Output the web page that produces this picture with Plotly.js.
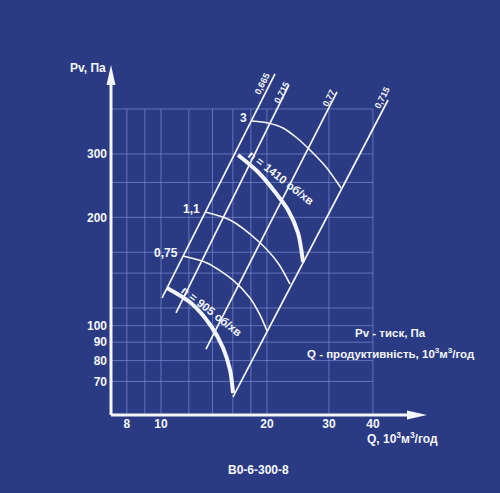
<!DOCTYPE html>
<html><head><meta charset="utf-8">
<script src="https://cdn.plot.ly/plotly-3.0.1.min.js"></script>
<style>html,body{margin:0;padding:0;background:#2a3b84;}#chart{width:500px;height:493px;}</style>
</head><body><div id="chart"></div>
<script>
// ---- data ----
const gridQ = [8, 9, 10, 12, 14, 16, 18, 20, 30, 40];
const gridP = [70, 80, 90, 100, 112, 140, 160, 200, 250, 300, 400];
const tickQ = [8, 10, 20, 30, 40];
const tickP = [70, 80, 90, 100, 200, 300];

const rayLabels = ['0,665', '0,715', '0,77', '0,715'];
const rayQ = [[10.07, 21.08], [11.03, 23.10], [13.42, 31.62], [16.02, 44.16]];
const rayP = [[119.4, 500.3], [108.5, 466.4], [86.1, 446.0], [63.4, 423.6]];

const powerLabels = ['3', '1,1', '0,75'];
const power3Q = [18.14, 20.14, 22.21, 24.34, 26.50, 29.43, 32.46];
const power3P = [370.4, 365.6, 354.2, 332.2, 307.6, 275.9, 241.3];
const power11Q = [13.34, 15.71, 18.87, 21.50, 23.25];
const power11P = [207.0, 196.7, 171.9, 149.4, 130.5];
const power075Q = [11.55, 13.51, 16.02, 17.90, 19.11, 20.01];
const power075P = [156.1, 149.4, 133.9, 119.4, 107.1, 96.67];

const speedLabels = ['n = 1410 об/хв', 'n = 905 об/хв'];
const n1410Q = [16.55, 18.87, 21.08, 22.95, 24.51, 25.32];
const n1410P = [298.0, 267.3, 235.2, 209.6, 180.9, 150.3];
const n905Q = [10.40, 12.17, 13.87, 15.01, 15.71, 16.02];
const n905P = [127.3, 115.6, 99.8, 86.7, 75.3, 65.0];

// ---- styling / layout ----
const BG = '#2a3b84';
const GRID = 'rgba(125,145,215,0.65)';
const WHITE = '#f4f6fb';
const FONT = "'Liberation Sans', Arial, sans-serif";
const W = 500, H = 493;
const M = {l: 111, r: 73, t: 65, b: 78};
const xr = [0.85795, 1.75568];
const yr = [1.75194, 2.72417];
const pw = W - M.l - M.r, ph = H - M.t - M.b;
const px = v => (v - M.l) / pw;           // pixel -> paper x
const py = v => (H - M.b - v) / ph;       // pixel -> paper y

const traces = [];
rayQ.forEach((q, i) => traces.push({x: q, y: rayP[i], mode: 'lines', type: 'scatter',
  line: {color: WHITE, width: 1.7}, hoverinfo: 'skip'}));
[[power3Q, power3P], [power11Q, power11P], [power075Q, power075P]].forEach(([q, p]) =>
  traces.push({x: q, y: p, mode: 'lines', type: 'scatter',
    line: {color: WHITE, width: 1.6, shape: 'spline', smoothing: 0.8}, hoverinfo: 'skip'}));
[[n1410Q, n1410P], [n905Q, n905P]].forEach(([q, p]) =>
  traces.push({x: q, y: p, mode: 'lines', type: 'scatter',
    line: {color: WHITE, width: 4, shape: 'spline', smoothing: 0.8}, hoverinfo: 'skip'}));

const qMin = Math.pow(10, xr[0]), pMin = Math.pow(10, yr[0]);
const qMax = gridQ[gridQ.length - 1], pMax = gridP[gridP.length - 1];
const shapes = gridQ.map(q => ({type: 'line', xref: 'x', yref: 'y', x0: q, x1: q, y0: pMin, y1: pMax,
  line: {color: GRID, width: 1}, layer: 'below'}))
  .concat(gridP.map(p => ({type: 'line', xref: 'x', yref: 'y', x0: qMin, x1: qMax, y0: p, y1: p,
  line: {color: GRID, width: 1}, layer: 'below'})));
// axes with arrowheads
shapes.push({type: 'line', xref: 'paper', yref: 'paper', x0: 0, x1: 1 - 12 / pw, y0: 0, y1: 0,
  line: {color: WHITE, width: 3}});
shapes.push({type: 'line', xref: 'paper', yref: 'paper', x0: 0, x1: 0, y0: 0, y1: 1 - 12 / ph,
  line: {color: WHITE, width: 3}});
shapes.push({type: 'path', xref: 'paper', yref: 'paper', xsizemode: 'pixel', ysizemode: 'pixel',
  xanchor: 1, yanchor: 0, path: 'M0,0 L-20,4.5 L-20,-4.5 Z', fillcolor: WHITE, line: {width: 0}});
shapes.push({type: 'path', xref: 'paper', yref: 'paper', xsizemode: 'pixel', ysizemode: 'pixel',
  xanchor: 0, yanchor: 1, path: 'M0,0 L-4.5,-20 L4.5,-20 Z', fillcolor: WHITE, line: {width: 0}});

const txt = (size, extra) => Object.assign({family: FONT, size: size, color: WHITE, weight: 'bold'}, extra || {});
const ann = [];
const mid = {xanchor: 'center', yanchor: 'middle', showarrow: false};
// ray labels
const rayOff = [[-13, -10], [-7, -7], [-8, -6], [-6, 2]];
rayLabels.forEach((t, i) => ann.push(Object.assign({xref: 'x', yref: 'y', x: Math.log10(rayQ[i][1]), y: Math.log10(rayP[i][1]),
  text: t, textangle: -63, xshift: rayOff[i][0], yshift: rayOff[i][1], font: txt(9)}, mid)));
// power labels
const powerStarts = [[power3Q[0], power3P[0]], [power11Q[0], power11P[0]], [power075Q[0], power075P[0]]];
powerLabels.forEach((t, i) => ann.push({xref: 'x', yref: 'y', x: Math.log10(powerStarts[i][0]), y: Math.log10(powerStarts[i][1]),
  text: t, showarrow: false, xanchor: 'right', yanchor: 'middle', xshift: -3, yshift: 3, font: txt(12)}));
// speed labels
const speedPos = [[281, 178], [211, 311]];
speedLabels.forEach((t, i) => ann.push(Object.assign({xref: 'paper', yref: 'paper', x: px(speedPos[i][0]), y: py(speedPos[i][1]),
  text: t, textangle: 38, font: txt(11.5)}, mid)));
// titles & notes
const note = (x, y, t, s) => ann.push(Object.assign({xref: 'paper', yref: 'paper', x: px(x), y: py(y), text: t, font: txt(s)}, mid));
note(88, 68, 'Pv, Па', 12);
note(402, 438, 'Q, 10<sup>3</sup>м<sup>3</sup>/год', 12);
note(390, 333, 'Pv - тиск, Па', 11.5);
note(391, 353, 'Q - продуктивність, 10<sup>3</sup>м<sup>3</sup>/год', 11.5);
note(258, 470, 'В0-6-300-8', 12);

const axisCommon = {type: 'log', showgrid: false, zeroline: false, showline: false, ticks: '',
  tickfont: txt(12), fixedrange: true, tickmode: 'array'};
const layout = {
  width: W, height: H, margin: M, paper_bgcolor: BG, plot_bgcolor: BG, showlegend: false,
  xaxis: Object.assign({}, axisCommon, {range: xr, tickvals: tickQ, ticktext: tickQ.map(String)}),
  yaxis: Object.assign({}, axisCommon, {range: yr, tickvals: tickP, ticktext: tickP.map(String), ticklabelstandoff: 3}),
  shapes: shapes, annotations: ann
};
Plotly.newPlot('chart', traces, layout, {staticPlot: true, displayModeBar: false});
</script></body></html>
